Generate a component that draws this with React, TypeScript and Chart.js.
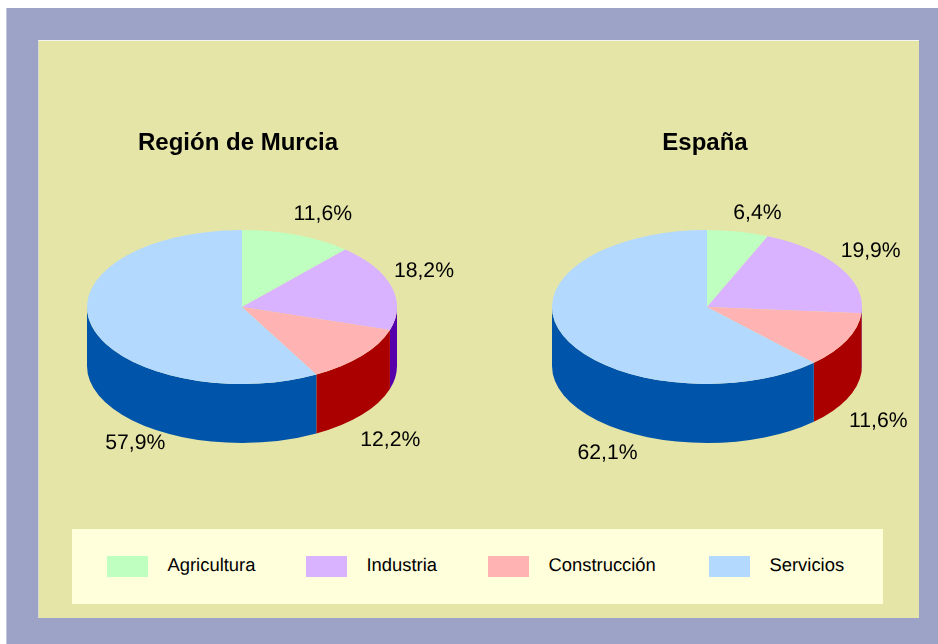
import React, { useEffect, useRef } from "react";
import { Chart, registerables } from "chart.js";

Chart.register(...registerables);

const categories = ["Agricultura", "Industria", "Construcción", "Servicios"];
const murciaValues = [11.6, 18.2, 12.2, 57.9];
const espanaValues = [6.4, 19.9, 11.6, 62.1];
const topColors = ["#BFFFBF", "#D9B3FF", "#FFB3B3", "#B3D9FF"];
const wallColors = ["#00AA55", "#5500AA", "#AA0000", "#0055AA"];

const FONT = '"Liberation Sans", Arial, sans-serif';
const RADIUS = 155;
const SQUASH = 77 / 155;
const DEPTH = 59;

type PieLayout = {
  left: number;
  width: number;
  centerX: number;
  centerY: number;
  nudges: [number, number][];
};

const CANVAS_TOP = 40;
const CANVAS_H = 480;
const LEGEND_LEFTS = [35, 234, 416, 637];

const murciaLayout: PieLayout = {
  left: 18,
  width: 440,
  centerX: 242,
  centerY: 307,
  nudges: [[25.5, -21], [32.5, -15], [28.5, 25], [43.5, 58]],
};
const espanaLayout: PieLayout = {
  left: 475,
  width: 460,
  centerX: 707,
  centerY: 307,
  nudges: [[19.5, -18.5], [31, -16], [31.5, 22], [44.5, 59]],
};

function fmt(v: number) {
  return v.toFixed(1).replace(".", ",") + "%";
}

function makePlugin(layout: PieLayout) {
  const cx = layout.centerX - layout.left;
  const cy = layout.centerY - CANVAS_TOP;
  return {
    id: "pie3d",
    beforeDatasetsDraw(chart: any) {
      const ctx = chart.ctx;
      const arcs = chart.getDatasetMeta(0).data;
      const ry = RADIUS * SQUASH;
      arcs.forEach((arc: any, i: number) => {
        const a0 = Math.max(arc.startAngle, 0);
        const a1 = Math.min(arc.endAngle, Math.PI);
        if (a1 <= a0) return;
        ctx.save();
        ctx.beginPath();
        ctx.ellipse(cx, cy, RADIUS, ry, 0, a0, a1, false);
        ctx.lineTo(cx + RADIUS * Math.cos(a1), cy + ry * Math.sin(a1) + DEPTH);
        ctx.ellipse(cx, cy + DEPTH, RADIUS, ry, 0, a1, a0, true);
        ctx.closePath();
        ctx.fillStyle = wallColors[i];
        ctx.fill();
        ctx.restore();
      });
      const first = arcs[0];
      ctx.save();
      ctx.translate(cx, cy);
      ctx.scale(1, SQUASH);
      ctx.translate(-first.x, -first.y);
    },
    afterDatasetsDraw(chart: any) {
      const ctx = chart.ctx;
      ctx.restore();
      const arcs = chart.getDatasetMeta(0).data;
      const values = chart.data.datasets[0].data as number[];
      const ry = RADIUS * SQUASH;
      ctx.save();
      (ctx as any).textRendering = "geometricPrecision";
      ctx.font = `21.2px ${FONT}`;
      ctx.fillStyle = "#000";
      ctx.textAlign = "center";
      ctx.textBaseline = "middle";
      arcs.forEach((arc: any, i: number) => {
        const mid = (arc.startAngle + arc.endAngle) / 2;
        const sin = Math.sin(mid);
        const x = cx + RADIUS * Math.cos(mid) + layout.nudges[i][0];
        const y = cy + ry * sin + (sin > 0 ? DEPTH : 0) + layout.nudges[i][1];
        ctx.fillText(fmt(values[i]), x, y);
      });
      ctx.restore();
    },
  };
}

function Pie({ title, values, layout }: { title: string; values: number[]; layout: PieLayout }) {
  const ref = useRef<HTMLCanvasElement>(null);
  useEffect(() => {
    const chart = new Chart(ref.current as HTMLCanvasElement, {
      type: "pie",
      data: {
        labels: categories,
        datasets: [{ data: values, backgroundColor: topColors, borderWidth: 0 }],
      },
      options: {
        responsive: false,
        animation: false,
        radius: RADIUS,
        layout: { padding: 0 },
        plugins: {
          legend: { display: false },
          tooltip: { enabled: false },
          title: {
            display: true,
            text: title,
            color: "#000",
            font: { family: FONT, size: 24, weight: "bold" },
            padding: { top: 89, bottom: 2 },
          },
        },
      } as any,
      plugins: [makePlugin(layout)],
    });
    return () => chart.destroy();
  }, []);
  return (
    <canvas
      ref={ref}
      width={layout.width}
      height={CANVAS_H}
      style={{ position: "absolute", left: layout.left, top: CANVAS_TOP, width: layout.width, height: CANVAS_H }}
    />
  );
}

export default function App() {
  return (
    <div style={{ position: "fixed", left: 0, top: 0, width: 938, height: 644, background: "#fff", overflow: "hidden" }}>
      <div style={{ position: "absolute", left: 6, top: 8, right: 0, bottom: 0, background: "#9CA3C7", borderLeft: "1px solid #C4C8DD" }} />
      <div
        style={{
          position: "absolute",
          left: 38,
          top: 40,
          width: 881,
          height: 578,
          boxSizing: "border-box",
          background: "#E5E5A8",
          borderTop: "1px solid #F4F4F0",
          borderLeft: "1px solid #D8DACB",
        }}
      />
      <Pie title="Región de Murcia" values={murciaValues} layout={murciaLayout} />
      <Pie title="España" values={espanaValues} layout={espanaLayout} />
      <div
        style={{
          position: "absolute",
          left: 72,
          top: 529,
          width: 811,
          height: 75,
          background: "#FFFFDB",
          font: `18.4px ${FONT}`,
          color: "#000",
          textRendering: "geometricPrecision",
        }}
      >
        {categories.map((c, i) => (
          <div key={c} style={{ position: "absolute", left: LEGEND_LEFTS[i], top: 27, height: 21 }}>
            <span style={{ position: "absolute", left: 0, top: 0, width: 41, height: 21, background: topColors[i] }} />
            <span style={{ position: "absolute", left: 60.5, top: -3, lineHeight: "24px", whiteSpace: "nowrap" }}>{c}</span>
          </div>
        ))}
      </div>
    </div>
  );
}
